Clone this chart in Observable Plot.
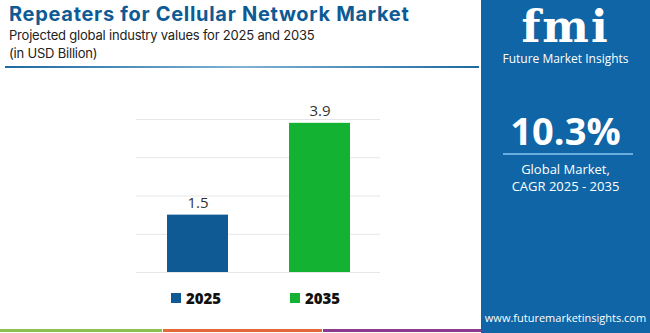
<!DOCTYPE html>
<html><head><meta charset="utf-8">
<script src="https://cdn.jsdelivr.net/npm/d3@7"></script>
<script src="https://cdn.jsdelivr.net/npm/@observablehq/plot@0.6"></script>
<style>
body{margin:0;background:#fff;font-family:"Open Sans",sans-serif;}
#wrap{position:relative;width:650px;height:333px;overflow:hidden;background:#fff;}
#title{position:absolute;left:9px;top:4px;font-family:Inter,sans-serif;font-weight:700;font-size:20px;line-height:20px;letter-spacing:0.7px;color:#0d5a94;white-space:nowrap;}
.sub{position:absolute;left:9px;font-family:Inter,sans-serif;font-size:13px;color:#222;line-height:16px;letter-spacing:-0.2px;white-space:nowrap;}
#rule{position:absolute;left:5px;top:66px;width:474px;height:2px;background:linear-gradient(90deg,#1d6aa0,#7fb2d4 50%,#1d6aa0);}
#chart{position:absolute;left:0;top:0;}
#side{position:absolute;left:481px;top:0;width:169px;height:333px;background:#0f65a6;color:#fff;text-align:center;}
.leg{position:absolute;top:288px;font-weight:800;font-size:15px;color:#111;display:flex;align-items:center;}
.leg span{display:inline-block;width:10px;height:10px;margin-right:5px;}
.bl{position:absolute;top:329px;height:3px;}
</style></head>
<body><div id="wrap">
<div id="title">Repeaters for Cellular Network Market</div>
<div class="sub" style="top:26.5px">Projected global industry values for 2025 and 2035</div>
<div class="sub" style="top:44.5px">(in USD Billion)</div>
<div id="rule"></div>
<div id="chart"></div>
<div id="legend"></div>
<div class="bl" style="left:0;width:162px;background:#8cc152"></div>
<div class="bl" style="left:163px;width:159px;background:#e5683b"></div>
<div class="bl" style="left:323px;width:158px;background:#8b3a8f"></div>
<div id="side">
  <div style="position:absolute;left:0;right:0;top:5px;font-family:'DejaVu Serif',serif;font-weight:700;font-size:44px;line-height:44px;letter-spacing:2px;">fmi</div>
  <div style="position:absolute;left:0;right:0;top:51px;font-size:12px;line-height:16px;">Future Market Insights</div>
  <div style="position:absolute;left:0;right:0;top:106px;font-weight:700;font-size:38px;line-height:48px;">10.3%</div>
  <div style="position:absolute;left:22px;width:130px;top:153px;height:2px;background:#6aaee0"></div>
  <div style="position:absolute;left:0;right:0;top:161px;font-size:13px;line-height:17px;">Global Market,<br>CAGR 2025 - 2035</div>
  <div style="position:absolute;left:0;right:0;top:310px;font-size:11px;line-height:15px;white-space:nowrap;">www.futuremarketinsights.com</div>
</div>
</div>
<script>
const years = ["2025", "2035"];
const values = [1.5, 3.9];
const colors = ["#0f5a94", "#14b232"];
const yTicks = [0, 1, 2, 3, 4];

const data = years.map((y, i) => ({year: y, value: values[i], color: colors[i]}));

const plot = Plot.plot({
  width: 480, height: 333,
  marginLeft: 136, marginRight: 100, marginTop: 119, marginBottom: 61,
  style: {fontFamily: "Open Sans, sans-serif", background: "transparent"},
  x: {domain: years, paddingInner: 0.5, paddingOuter: 0.25, axis: null},
  y: {domain: [0, 4], axis: null},
  marks: [
    Plot.gridY(yTicks, {stroke: "#e6e6e6", strokeOpacity: 1}),
    Plot.barY(data, {x: "year", y: "value", fill: "color"}),
    Plot.text(data, {x: "year", y: "value", text: d => d.value.toFixed(1), dy: -7, lineAnchor: "bottom", fontSize: 15, fill: "#333"})
  ]
});
document.getElementById("chart").appendChild(plot);

const legX = [171, 290];
const lg = document.getElementById("legend");
years.forEach((y, i) => {
  const d = document.createElement("div");
  d.className = "leg";
  d.style.left = legX[i] + "px";
  d.innerHTML = `<span style="background:${colors[i]}"></span>${y}`;
  lg.appendChild(d);
});
</script>
</body></html>
